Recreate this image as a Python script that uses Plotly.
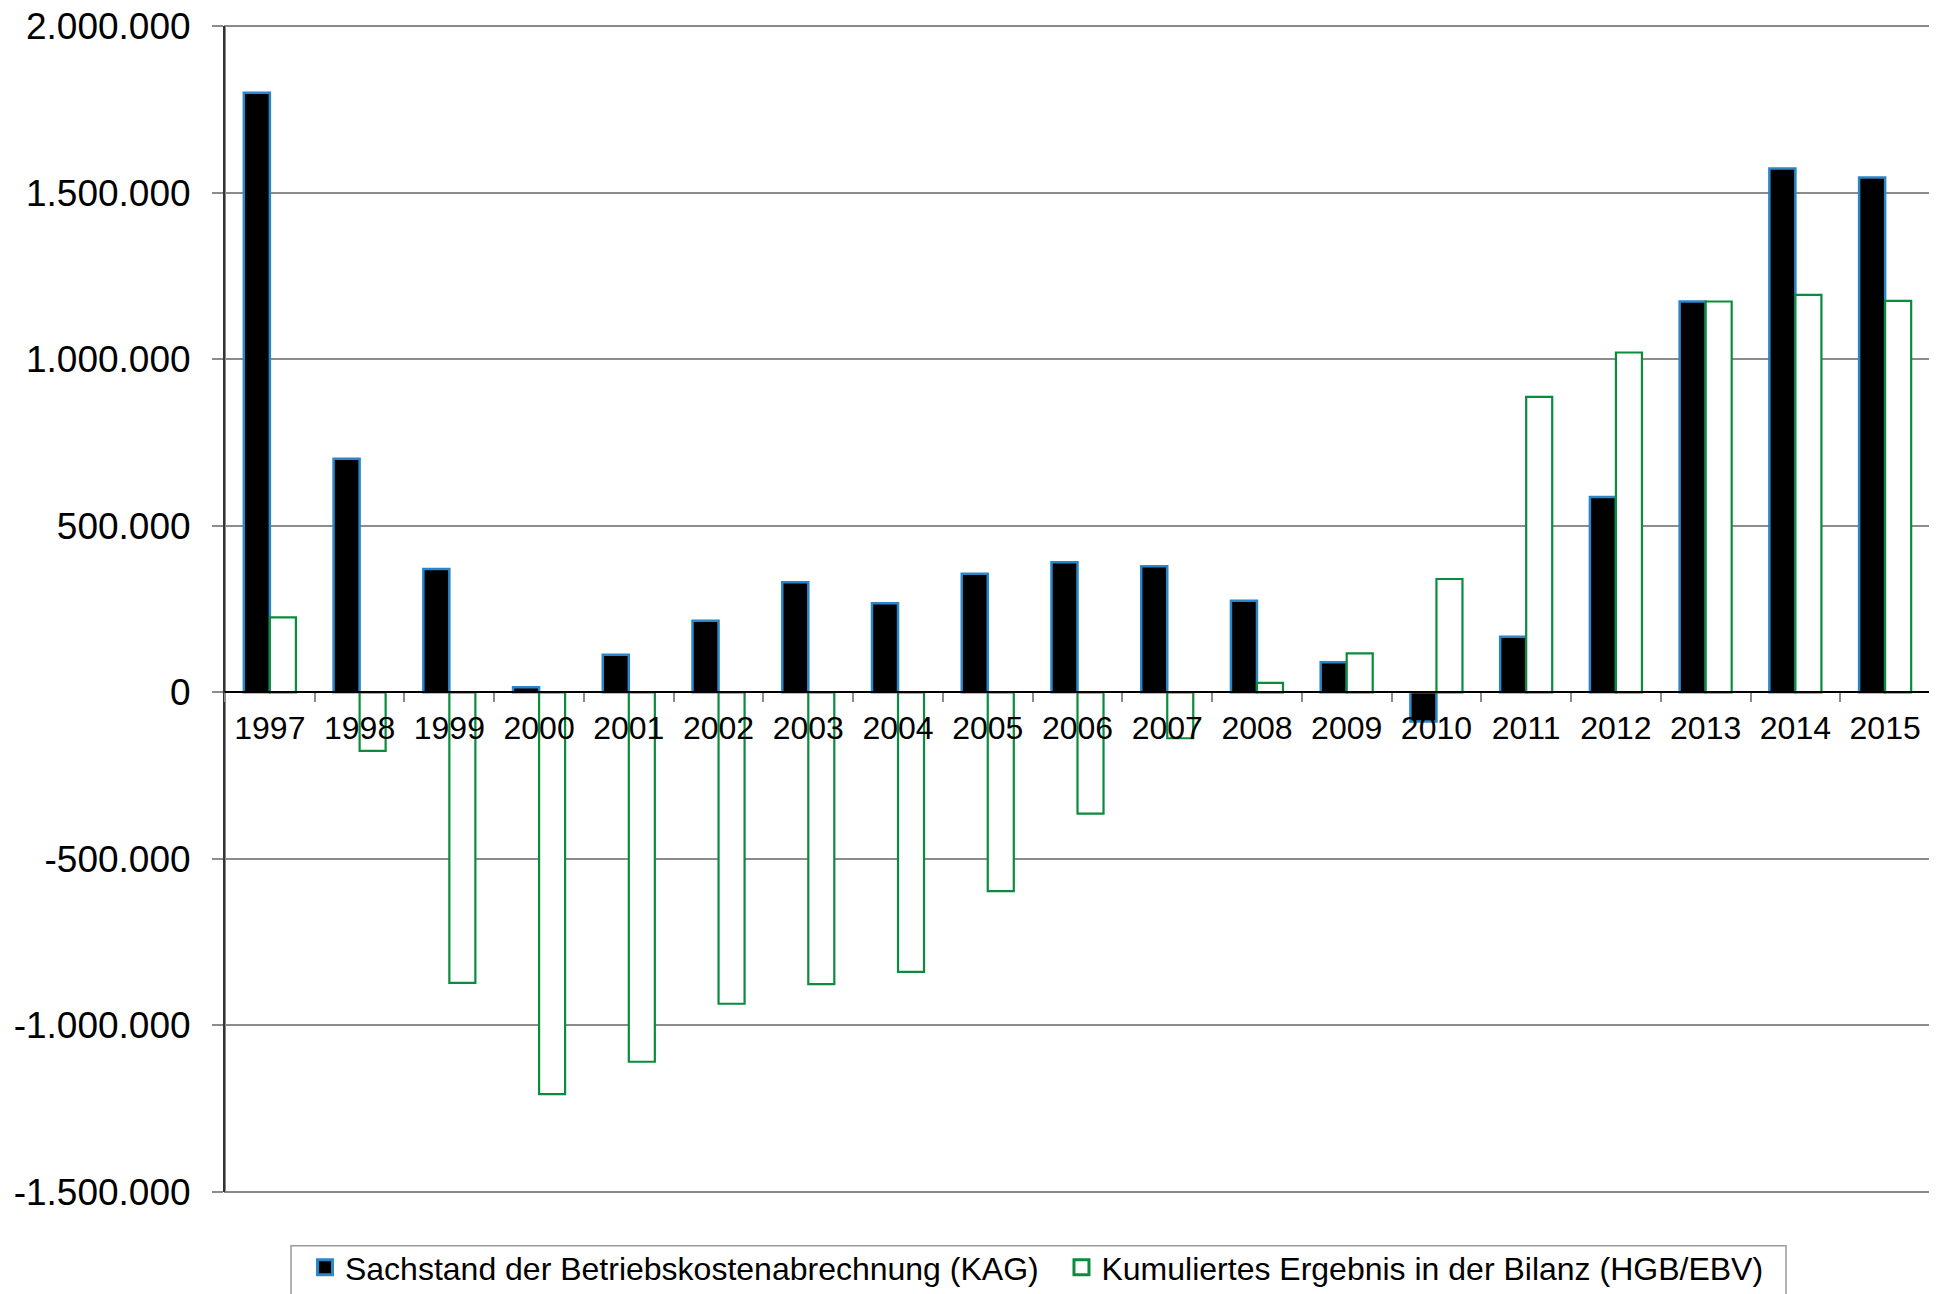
import plotly.graph_objects as go

years = ["1997", "1998", "1999", "2000", "2001", "2002", "2003", "2004", "2005", "2006",
         "2007", "2008", "2009", "2010", "2011", "2012", "2013", "2014", "2015"]
kag = [1800000, 701000, 370000, 15000, 113000, 215000, 330000, 267000, 356000, 390000,
       378000, 275000, 90000, -88000, 167000, 586000, 1173000, 1572000, 1545000]
bilanz = [225000, -176000, -872000, -1206000, -1109000, -935000, -876000, -839000, -597000, -364000,
          -138000, 28000, 117000, 340000, 887000, 1020000, 1173000, 1193000, 1175000]
y_tickvals = [-1500000, -1000000, -500000, 0, 500000, 1000000, 1500000, 2000000]
y_ticktext = ["-1.500.000", "-1.000.000", "-500.000", "0", "500.000", "1.000.000", "1.500.000", "2.000.000"]
names = ["Sachstand der Betriebskostenabrechnung (KAG)", "Kumuliertes Ergebnis in der Bilanz (HGB/EBV)"]

FONT = "Liberation Sans, Arial, sans-serif"
BLUE = "#2a86c8"
GREEN = "#0a8c3c"

fig = go.Figure()
fig.add_trace(go.Bar(
    x=years, y=kag, name=names[0], showlegend=False,
    marker=dict(color="black", line=dict(color=BLUE, width=2.5)),
))
fig.add_trace(go.Bar(
    x=years, y=bilanz, name=names[1], showlegend=False,
    marker=dict(color="white", line=dict(color=GREEN, width=2.2)),
))
# legend entries (square symbols like the original)
fig.add_trace(go.Scatter(
    x=[years[0]], y=[None], mode="markers", name=names[0] + "\u00a0\u00a0",
    marker=dict(symbol="square", size=15, color="black", line=dict(color=BLUE, width=3)),
))
fig.add_trace(go.Scatter(
    x=[years[0]], y=[None], mode="markers", name=names[1],
    marker=dict(symbol="square", size=15, color="white", line=dict(color=GREEN, width=3)),
))

# page body has an 8px margin: figure sized/margined to compensate
fig.update_layout(
    width=1925, height=1286,
    margin=dict(l=217, r=3, t=18, b=102, autoexpand=False),
    paper_bgcolor="white", plot_bgcolor="white",
    barmode="group", bargap=0.42, bargroupgap=0,
    font=dict(family=FONT, color="black", size=32),
    showlegend=True,
    legend=dict(
        orientation="h", x=0.0469, xanchor="left", y=-0.0412, yanchor="top",
        borderwidth=0, bgcolor="rgba(0,0,0,0)",
        font=dict(family=FONT, size=32, color="black"),
        itemwidth=30, traceorder="normal",
    ),
    shapes=[
        dict(type="rect", xref="paper", yref="paper", x0=0, x1=1, y0=0, y1=1,
             line=dict(color="#8a8a8a", width=2), layer="below"),
        # legend frame
        dict(type="rect", xref="paper", yref="paper",
             x0=(291 - 225) / 1705, x1=(1786 - 225) / 1705,
             y0=-0.2, y1=-(1245.7 - 1192) / 1166,
             line=dict(color="#9a9a9a", width=1.5), fillcolor="white", layer="below"),
    ],
)

fig.update_yaxes(
    range=[-1500000, 2000000], automargin=False,
    tickvals=y_tickvals, ticktext=y_ticktext, ticklabeloverflow="allow",
    tickfont=dict(size=37, family=FONT, color="black"),
    showgrid=True, gridcolor="#8c8c8c", gridwidth=1.5,
    zeroline=False,
    showline=True, linecolor="#333333", linewidth=2,
    ticks="outside", ticklen=11, tickcolor="#8c8c8c", tickwidth=1.5,
    ticklabelstandoff=14,
)
fig.update_xaxes(
    type="category", automargin=False, range=[-0.5, len(years) - 0.5],
    anchor="free", position=1.5 / 3.5,
    showline=True, linecolor="black", linewidth=1.5,
    showgrid=False, zeroline=False,
    ticks="outside", tickson="boundaries", ticklen=9, tickcolor="#8c8c8c", tickwidth=1.5,
    tickfont=dict(size=32, family=FONT, color="black"),
    ticklabelstandoff=8,
)

fig.write_html("out.html")
